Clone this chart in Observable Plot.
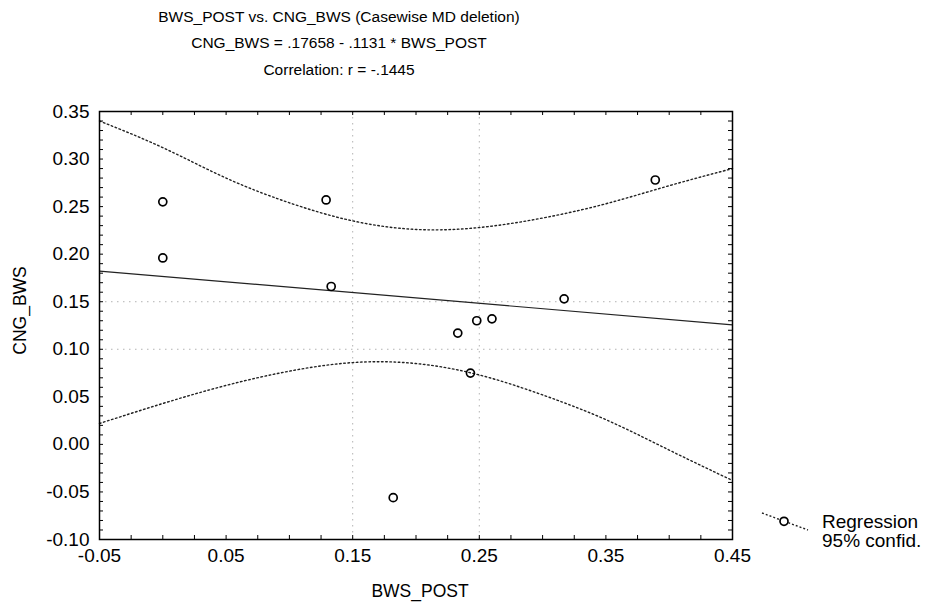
<!DOCTYPE html>
<html>
<head>
<meta charset="utf-8">
<script src="https://cdn.jsdelivr.net/npm/d3@7"></script>
<script src="https://cdn.jsdelivr.net/npm/@observablehq/plot@0.6"></script>
<style>
  body { margin: 0; background: white; }
  #chart { position: relative; width: 930px; height: 602px; font-family: "Liberation Sans", Arial, sans-serif; }
  .leg { position: absolute; font-size: 19px; color: #000; line-height: 1; white-space: nowrap; }
</style>
</head>
<body>
<div id="chart"></div>
<script>
// ---- data ----
const bwsPost = [0.000, 0.000, 0.129, 0.133, 0.182, 0.233, 0.243, 0.248, 0.260, 0.317, 0.389];
const cngBws  = [0.255, 0.196, 0.257, 0.166, -0.056, 0.117, 0.075, 0.130, 0.132, 0.153, 0.278];

const regIntercept = 0.17658;
const regSlope = -0.1131;

const bandX     = [-0.05, 0.00, 0.05, 0.10, 0.15, 0.20, 0.25, 0.30, 0.35, 0.40, 0.45];
const bandUpper = [0.340, 0.312, 0.280, 0.254, 0.235, 0.226, 0.228, 0.238, 0.253, 0.272, 0.290];
const bandLower = [0.022, 0.043, 0.062, 0.077, 0.086, 0.085, 0.073, 0.052, 0.026, -0.006, -0.038];

const xTicks = [-0.05, 0.05, 0.15, 0.25, 0.35, 0.45];
const yTicks = [-0.10, -0.05, 0.00, 0.05, 0.10, 0.15, 0.20, 0.25, 0.30, 0.35];
const xGrid = [0.15, 0.25];
const yGrid = [0.10, 0.15];

const titleLines = [
  "BWS_POST vs. CNG_BWS (Casewise MD deletion)",
  "CNG_BWS = .17658 - .1131 * BWS_POST",
  "Correlation: r = -.1445"
];
const xLabel = "BWS_POST";
const yLabel = "CNG_BWS";
const legendLabels = ["Regression", "95% confid."];

// ---- derived tables ----
const points = bwsPost.map((x, i) => ({x, y: cngBws[i]}));
const regLine = [-0.05, 0.45].map(x => ({x, y: regIntercept + regSlope * x}));
const upper = bandX.map((x, i) => ({x, y: bandUpper[i]}));
const lower = bandX.map((x, i) => ({x, y: bandLower[i]}));
const xMinor = d3.range(0, 21).map(i => -0.05 + i * 0.025);
const yMinor = d3.range(0, 46).map(i => -0.10 + i * 0.01);

const fmt = d => (d < -1e-9 ? "-" : "") + Math.abs(d).toFixed(2);

const W = 930, H = 602;
const mL = 99, mR = 198, mT = 111, mB = 63;
const fw = W - mL - mR, fh = H - mT - mB;
const FS = 19;
const TS = 15.5;
const AS = 17.5;
const font = '"Liberation Sans", Arial, sans-serif';

const chart = Plot.plot({
  width: W,
  height: H,
  marginLeft: mL,
  marginRight: mR,
  marginTop: mT,
  marginBottom: mB,
  style: {fontFamily: font, fontSize: FS + "px", background: "white", color: "black", overflow: "visible"},
  x: {domain: [-0.05, 0.45], label: null},
  y: {domain: [-0.10, 0.35], label: null},
  marks: [
    Plot.ruleX(xGrid, {x: d => d, stroke: "#999", strokeDasharray: "1.5,4.5", strokeOpacity: 0.75}),
    Plot.ruleY(yGrid, {y: d => d, stroke: "#999", strokeDasharray: "1.5,4.5", strokeOpacity: 0.75}),
    Plot.line(upper, {x: "x", y: "y", curve: "natural", stroke: "#222", strokeWidth: 1.4, strokeDasharray: "1.6,2.6"}),
    Plot.line(lower, {x: "x", y: "y", curve: "natural", stroke: "#222", strokeWidth: 1.4, strokeDasharray: "1.6,2.6"}),
    Plot.line(regLine, {x: "x", y: "y", stroke: "#222", strokeWidth: 1.2}),
    Plot.dot(points, {x: "x", y: "y", r: 4, stroke: "black", strokeWidth: 1.7, fill: "none"}),
    // minor ticks inward on all four sides
    Plot.tickY(yMinor, {y: d => d, insetRight: fw - 4, stroke: "black"}),
    Plot.tickY(yMinor, {y: d => d, insetLeft: fw - 4, stroke: "black"}),
    Plot.tickX(xMinor, {x: d => d, insetTop: fh - 4, stroke: "black"}),
    Plot.tickX(xMinor, {x: d => d, insetBottom: fh - 4, stroke: "black"}),
    Plot.frame({stroke: "black", strokeWidth: 1.5}),
    Plot.axisX(xTicks, {tickFormat: fmt, tickSize: 0, tickPadding: 9, fontSize: FS, label: null}),
    Plot.axisY(yTicks, {tickFormat: fmt, tickSize: 0, tickPadding: 10, fontSize: FS, label: null}),
    Plot.text([titleLines[0]], {text: d => d, frameAnchor: "top", dy: -94, dx: -77, textAnchor: "middle", lineAnchor: "middle", fontSize: TS}),
    Plot.text([titleLines[1]], {text: d => d, frameAnchor: "top", dy: -68, dx: -77, textAnchor: "middle", lineAnchor: "middle", fontSize: TS}),
    Plot.text([titleLines[2]], {text: d => d, frameAnchor: "top", dy: -41, dx: -77, textAnchor: "middle", lineAnchor: "middle", fontSize: TS}),
    Plot.text([xLabel], {text: d => d, frameAnchor: "bottom", dy: 52, dx: 4, textAnchor: "middle", lineAnchor: "middle", fontSize: AS}),
    Plot.text([yLabel], {text: d => d, frameAnchor: "left", dx: -79, dy: -15, rotate: -90, textAnchor: "middle", lineAnchor: "middle", fontSize: AS})
  ]
});

const root = document.getElementById("chart");
root.appendChild(chart);

// legend (outside the plot frame, right side)
const legSvg = document.createElementNS("http://www.w3.org/2000/svg", "svg");
legSvg.setAttribute("width", "56");
legSvg.setAttribute("height", "30");
legSvg.style.position = "absolute";
legSvg.style.left = "758px";
legSvg.style.top = "506px";
legSvg.innerHTML =
  '<line x1="4" y1="7" x2="50" y2="24" stroke="#222" stroke-width="1.4" stroke-dasharray="2,2"/>' +
  '<circle cx="26" cy="15.3" r="4" fill="white" stroke="black" stroke-width="1.7"/>';
root.appendChild(legSvg);

legendLabels.forEach((t, i) => {
  const d = document.createElement("div");
  d.className = "leg";
  d.textContent = t;
  d.style.left = "822px";
  d.style.top = (512 + i * 19) + "px";
  root.appendChild(d);
});
</script>
</body>
</html>
